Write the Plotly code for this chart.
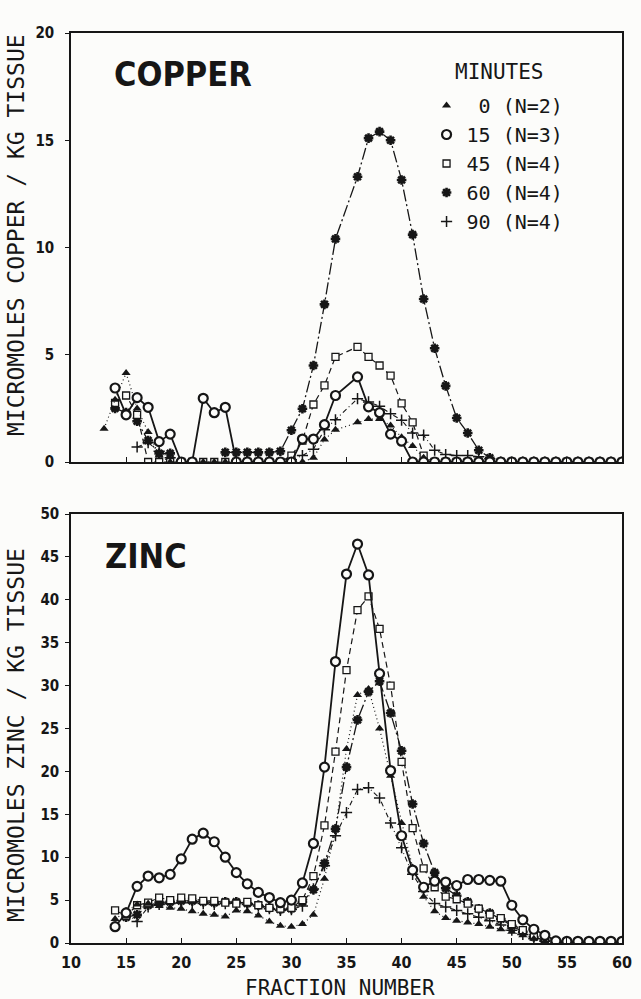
import plotly.graph_objects as go

# ---------------- data ----------------
cu_fraction = list(range(13, 35)) + list(range(36, 61))
zn_fraction = list(range(14, 61))

minutes_labels = ["\u00a00 (N=2)", "15 (N=3)", "45 (N=4)", "60 (N=4)", "90 (N=4)"]

cu_0min = [1.55, 2.9, 4.15, 2.5, 1.4, 0.3, 0, 0, 0, 0, 0, 0, 0, 0, 0, 0, 0, 0, 0, 0.2, 1.05, 1.5,
           1.85, 2.0, 2.0, 1.7, 1.15, 0.75, 0.2] + [0] * 18
cu_15min = [None, 3.45, 2.2, 3.0, 2.55, 0.95, 1.3, 0, 0, 2.97, 2.3, 2.55, 0, 0, 0, 0, 0, 0, 1.07, 1.07, 1.74, 3.1,
            3.97, 2.57, 2.3, 1.3, 0.97] + [0] * 20
cu_45min = [None, 2.75, 3.1, 2.2] + [0] * 13 + [0.3, 1.0, 2.68, 3.57, 4.9,
            5.37, 4.9, 4.5, 4.03, 2.73, 1.85, 0.3] + [0] * 18
cu_60min = [None, 2.5, 2.3, 1.9, 1.0, 0.4, 0.4, None, None, None, None, 0.45, 0.45, 0.45, 0.45, 0.45, 0.5,
            1.48, 2.48, 4.5, 7.35, 10.4,
            13.3, 15.1, 15.4, 15.0, 13.15, 10.6, 7.6, 5.3, 3.55, 2.05, 1.35, 0.55, 0.2] + [0] * 12
cu_90min = [None, None, None, 0.7, 0.9, 0.5, 0.2] + [None] * 10 + [0.1, 0.3, 0.6, 1.5, 1.97,
            2.95, 2.8, 2.6, 2.25, 1.95, 1.35, 1.25, 0.55, 0.35, 0.3, 0.3, 0.25, 0.15] + [0] * 12

zn_0min = [2.8, 3.6, 4.5, 4.6, 4.3, 4.1, 4.0, 3.7, 3.4, 3.3,
           3.1, 3.8, 3.7, 3.2, 2.5, 2.0, 1.9, 2.2, 3.3, 7.5,
           13.2, 22.6, 28.9, 29.6, 25.0, 19.5, 14.0, 8.8, 5.4, 3.7,
           2.9, 2.6, 2.4, 2.2, 1.9, 1.6, 1.3, 0.9, 0.5, 0.2,
           0.05, 0, 0, 0, 0, 0, 0]
zn_15min = [1.9, 3.5, 6.6, 7.8, 7.6, 8.0, 9.8, 12.1, 12.8, 11.8,
            10.0, 8.2, 6.9, 5.9, 5.3, 4.7, 5.0, 7.0, 11.6, 20.5,
            32.8, 43.0, 46.5, 42.9, 31.4, 20.1, 12.5, 8.5, 6.5, 7.2,
            7.1, 6.7, 7.4, 7.4, 7.3, 7.2, 4.4, 2.7, 1.6, 0.9,
            0.25, 0.2, 0.2, 0.2, 0.2, 0.2, 0.2]
zn_45min = [3.8, 3.2, 4.4, 4.7, 5.3, 5.0, 5.3, 5.2, 4.9, 4.9,
            4.7, 4.6, 4.8, 4.4, 4.1, 4.0, 4.1, 5.0, 7.8, 13.7,
            22.3, 31.8, 38.8, 40.4, 36.6, 30.0, 21.1, 13.4, 8.7, 6.5,
            5.4, 5.1, 4.6, 4.0, 3.3, 2.9, 2.2, 1.5, 0.9, 0.5,
            0.2, 0.1, 0.1, 0.1, 0.1, 0.1, 0.1]
zn_60min = [None, 3.0, 3.3, 4.4, 4.7, 4.8, 4.9, 4.9, 4.8, 4.7,
            4.8, 4.8, 4.6, 4.4, 4.1, 3.9, 4.0, 4.8, 6.2, 9.3,
            13.3, 20.5, 26.0, 29.3, 30.5, 26.8, 22.4, 16.2, 11.6, 8.2,
            6.4, 5.5, 4.8, 4.0, 3.5, 2.8, 2.0, 1.3, 0.7, 0.3,
            0.1, 0.1, 0.1, 0.1, 0.1, 0.1, 0.1]
zn_90min = [None, 3.5, 2.5, 4.2, 4.5, 4.6, 4.7, 4.7, 4.6, 4.5,
            4.6, 4.7, 4.5, 4.3, 4.0, 3.8, 3.9, 4.3, 6.3, 9.0,
            12.5, 15.2, 17.9, 18.1, 16.9, 14.0, 11.1, 8.0, 6.0, 4.6,
            4.2, 3.8, 3.4, 3.0, 2.6, 2.1, 1.5, 1.0, 0.5, 0.2,
            0.1, 0.1, 0.1, 0.1, 0.1, 0.1, 0.1]

for s in (cu_0min, cu_15min, cu_45min, cu_60min, cu_90min):
    assert len(s) == len(cu_fraction), len(s)
for s in (zn_0min, zn_15min, zn_45min, zn_60min, zn_90min):
    assert len(s) == len(zn_fraction), len(s)

x_ticks = list(range(10, 61, 5))
cu_ticks = list(range(0, 21, 5))
zn_ticks = list(range(0, 51, 5))

# ---------------- styles ----------------
BG = "#fcfcfa"
INK = "#161616"
MONO = "DejaVu Sans Mono, Liberation Mono, monospace"
COND = "DejaVu Sans Condensed, Liberation Sans Narrow, DejaVu Sans, sans-serif"

styles = {
    "0":  dict(marker=dict(symbol="triangle-up", size=8, color=INK),
               line=dict(color=INK, width=1.2, dash="1px,3px")),
    "15": dict(marker=dict(symbol="circle", size=9, color=BG, line=dict(color=INK, width=2.2)),
               line=dict(color=INK, width=1.8)),
    "45": dict(marker=dict(symbol="square", size=7, color=BG, line=dict(color=INK, width=1.3)),
               line=dict(color=INK, width=1.2, dash="6px,4px")),
    "60": dict(marker=dict(symbol="asterisk-open", size=8, color=INK, line=dict(color=INK, width=2.6)),
               line=dict(color=INK, width=1.3, dash="12px,3px,2px,3px")),
    "90": dict(marker=dict(symbol="cross-thin-open", size=8, color=INK, line=dict(color=INK, width=1.5)),
               line=dict(color=INK, width=1.1, dash="5px,3px,1px,3px")),
}

fig = go.Figure()

order = ["90", "60", "45", "0", "15"]
cu = {"0": cu_0min, "15": cu_15min, "45": cu_45min, "60": cu_60min, "90": cu_90min}
zn = {"0": zn_0min, "15": zn_15min, "45": zn_45min, "60": zn_60min, "90": zn_90min}

for key in order:
    st = styles[key]
    fig.add_trace(go.Scatter(x=cu_fraction, y=cu[key], mode="lines+markers",
                             marker=st["marker"], line=st["line"], showlegend=False,
                             xaxis="x", yaxis="y2", hoverinfo="skip"))
    fig.add_trace(go.Scatter(x=zn_fraction, y=zn[key], mode="lines+markers",
                             marker=st["marker"], line=st["line"], showlegend=False,
                             xaxis="x2", yaxis="y", hoverinfo="skip"))

# legend-only entries (markers only, as in the original key)
for key, label in zip(["0", "15", "45", "60", "90"], minutes_labels):
    fig.add_trace(go.Scatter(x=[None], y=[None], mode="markers", marker=styles[key]["marker"],
                             name=label, showlegend=True, xaxis="x", yaxis="y2"))

axis_common = dict(showline=True, linecolor=INK, linewidth=1.5, mirror=True,
                   showgrid=False, zeroline=False, range=[10, 60],
                   tickmode="array", tickvals=x_ticks, ticks="inside", ticklen=5,
                   tickcolor=INK, tickwidth=1.2)
yaxis_common = dict(showline=True, linecolor=INK, linewidth=1.5, mirror=True,
                    showgrid=False, zeroline=False, ticks="outside", ticklen=4,
                    tickcolor=INK, tickwidth=1.2,
                    tickfont=dict(family=COND, size=15, color=INK, weight="bold"))

top_domain = [(943 - 462) / 910, 1.0]
bot_domain = [0.0, (943 - 514) / 910]

fig.update_layout(
    width=641, height=999,
    margin=dict(l=71, r=9, t=33, b=56),
    paper_bgcolor=BG, plot_bgcolor=BG,
    xaxis=dict(**axis_common, anchor="y2", showticklabels=False),
    yaxis2=dict(**yaxis_common, domain=top_domain, range=[0, 20], tickvals=cu_ticks,
                anchor="x", ticklabelstandoff=8),
    xaxis2=dict(**axis_common, anchor="y", showticklabels=True, matches=None,
                tickfont=dict(family=COND, size=16, color=INK, weight="bold"),
                ticklabelstandoff=4),
    yaxis=dict(**yaxis_common, domain=bot_domain, range=[0, 50], tickvals=zn_ticks,
               anchor="x2", ticklabelstandoff=3),
    showlegend=True,
    legend=dict(x=(433 - 71) / 561, y=(943 - 86) / 910, xanchor="left", yanchor="top",
                bgcolor="rgba(0,0,0,0)", borderwidth=0,
                font=dict(family=MONO, size=20, color=INK), itemwidth=30),
)

ann_font = dict(family=MONO, size=23, color=INK)
fig.add_annotation(text="MICROMOLES COPPER / KG TISSUE", xref="paper", yref="paper",
                   x=(15 - 71) / 561, y=(943 - 235) / 910, textangle=-90,
                   showarrow=False, font=ann_font, xanchor="center", yanchor="middle")
fig.add_annotation(text="MICROMOLES ZINC / KG TISSUE", xref="paper", yref="paper",
                   x=(15 - 71) / 561, y=(943 - 735) / 910, textangle=-90,
                   showarrow=False, font=ann_font, xanchor="center", yanchor="middle")
fig.add_annotation(text="FRACTION NUMBER", xref="paper", yref="paper",
                   x=(345 - 71) / 561, y=(943 - 988) / 910,
                   showarrow=False, font=dict(family=MONO, size=21, color=INK),
                   xanchor="center", yanchor="middle")
fig.add_annotation(text="MINUTES", xref="paper", yref="paper",
                   x=(460 - 71) / 561, y=(943 - 72) / 910,
                   showarrow=False, font=dict(family=MONO, size=21, color=INK),
                   xanchor="left", yanchor="middle")
fig.add_annotation(text="COPPER", xref="paper", yref="paper",
                   x=(113 - 71) / 561, y=(943 - 74) / 910,
                   showarrow=False, font=dict(family=COND, size=34, color=INK, weight="bold"),
                   xanchor="left", yanchor="middle")
fig.add_annotation(text="ZINC", xref="paper", yref="paper",
                   x=(104 - 71) / 561, y=(943 - 556) / 910,
                   showarrow=False, font=dict(family=COND, size=34, color=INK, weight="bold"),
                   xanchor="left", yanchor="middle")

fig.write_html("out.html")
